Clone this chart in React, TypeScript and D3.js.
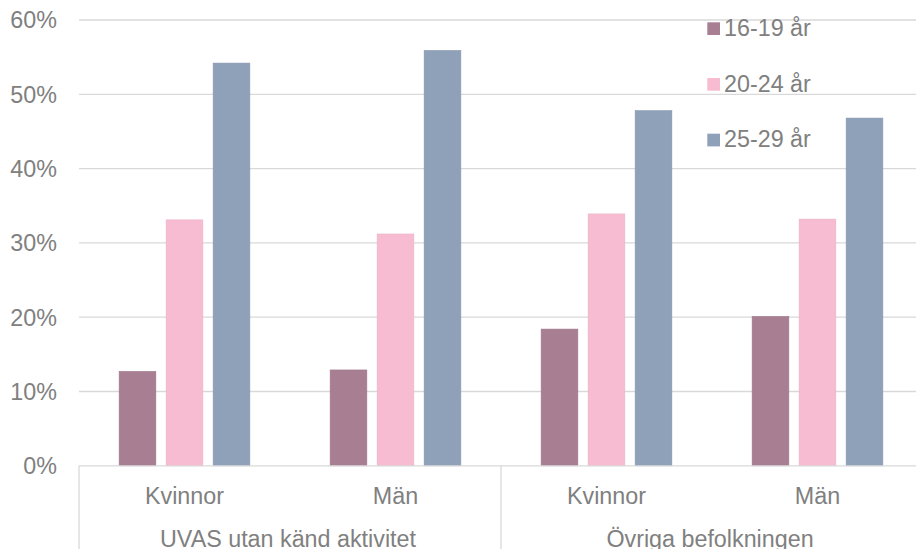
import React from "react";
import * as d3 from "d3";

const groups = ["UVAS utan känd aktivitet", "Övriga befolkningen"];
const categories = ["Kvinnor", "Män", "Kvinnor", "Män"];
const seriesNames = ["16-19 år", "20-24 år", "25-29 år"];
const s1619 = [12.7, 12.9, 18.4, 20.1];
const s2024 = [33.1, 31.2, 33.9, 33.2];
const s2529 = [54.2, 55.9, 47.8, 46.8];
const colors = ["#A87E93", "#F7BCD1", "#8FA0B9"];
const yTicks = [0, 10, 20, 30, 40, 50, 60];

export default function App() {
  const W = 916, H = 549;
  const left = 79, right = 923, top = 20, bottom = 465.8;
  const series = [s1619, s2024, s2529];
  const x = d3.scaleBand<number>().domain(d3.range(categories.length)).range([left, right]).paddingInner(0).paddingOuter(0);
  const bw = x.bandwidth();
  const barW = 36.7, gap = 10.3;
  const y = d3.scaleLinear().domain([0, 60]).range([bottom, top]);
  const font = "Arial, 'Liberation Sans', sans-serif";
  const txt = "#808080";
  const fs = 23.3;
  return (
    <svg width={W} height={H} style={{ position: "absolute", left: 0, top: 0 }} fontFamily={font}>
      <rect width={W} height={H} fill="#fff" />
      {yTicks.map((t) => (
        <g key={t}>
          {t > 0 && <line x1={left} x2={W} y1={y(t)} y2={y(t)} stroke="#D9D9D9" strokeWidth={1.3} />}
          <text x={57} y={y(t)} dy="0.36em" textAnchor="end" fontSize={fs} fill={txt}>{t}%</text>
        </g>
      ))}
      {categories.map((c, i) => {
        const x0 = (x(i) as number) + bw / 2 - (3 * barW + 2 * gap) / 2;
        return (
          <g key={i}>
            {series.map((s, k) => (
              <rect key={k} x={x0 + k * (barW + gap)} y={y(s[i])} width={barW} height={bottom - y(s[i])}
                fill={colors[k]} stroke={d3.color(colors[k])!.darker(0.15).toString()} strokeWidth={0.6} />
            ))}
            <text x={(x(i) as number) + bw / 2} y={503.5} textAnchor="middle" fontSize={fs} fill={txt}>{c}</text>
          </g>
        );
      })}
      <line x1={left} x2={W} y1={bottom} y2={bottom} stroke="#D9D9D9" strokeWidth={1.3} />
      {[0, 2].map((i) => {
        const xv = x(i) as number;
        return <line key={i} x1={xv} x2={xv} y1={bottom} y2={H} stroke="#D9D9D9" strokeWidth={1.3} />;
      })}
      {groups.map((g, gi) => {
        const cx = ((x(gi * 2) as number) + (x(gi * 2 + 1) as number) + bw) / 2;
        return <text key={g} x={cx - 2} y={546.5} textAnchor="middle" fontSize={fs} fill={txt}>{g}</text>;
      })}
      {seriesNames.map((n, k) => (
        <g key={n}>
          <rect x={707.3} y={22.3 + k * 55.7} width={12.7} height={12.7} fill={colors[k]} />
          <text x={724} y={36 + k * 55.7} fontSize={fs} fill={txt}>{n}</text>
        </g>
      ))}
    </svg>
  );
}
